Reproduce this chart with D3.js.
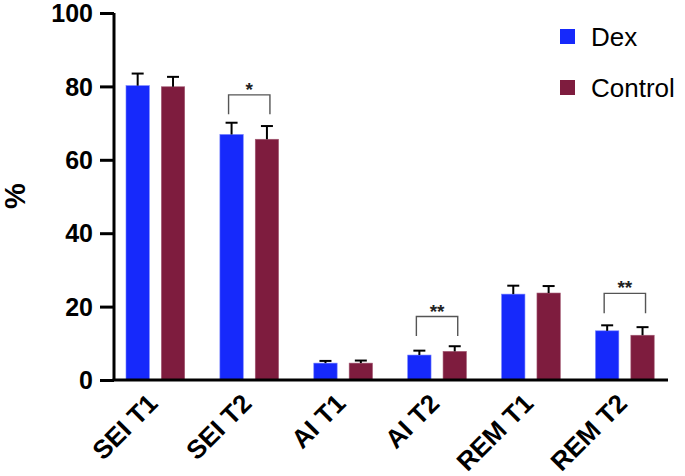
<!DOCTYPE html>
<html><head><meta charset="utf-8">
<script src="https://cdn.jsdelivr.net/npm/d3@7"></script>
<style>html,body{margin:0;padding:0;background:#fff}svg{display:block}</style>
</head><body>
<svg id="chart" width="685" height="476"></svg>
<script>
const categories = ["SEI T1","SEI T2","AI T1","AI T2","REM T1","REM T2"];
const seriesNames = ["Dex","Control"];
const dexMean = [80.2, 66.9, 4.6, 6.8, 23.4, 13.4];
const dexErr  = [3.3, 3.2, 0.6, 1.2, 2.3, 1.5];
const ctrlMean = [79.9, 65.6, 4.6, 7.8, 23.7, 12.2];
const ctrlErr  = [2.7, 3.6, 0.7, 1.4, 1.9, 2.2];
const yTicks = [0, 20, 40, 60, 80, 100];
// significance brackets: category, bracket level, drop level, label
const sigCats = ["SEI T2","AI T2","REM T2"];
const sigTop = [77.7, 17.3, 23.6];
const sigDrop = [72.4, 12.0, 18.2];
const sigLabels = ["*","**","**"];
const colors = ["#1629FB", "#7E1C3E"];

const svg = d3.select("#chart");
const font = "'Liberation Sans', Arial, Helvetica, sans-serif";

const y = d3.scaleLinear().domain([0, 100]).range([380, 13]);
const x0 = d3.scaleBand().domain(categories).range([108.4, 671.8]).padding(0);
const x1 = d3.scaleBand().domain(seriesNames).range([17.6, 76.3]).paddingInner(0.34).paddingOuter(0);
const color = d3.scaleOrdinal().domain(seriesNames).range(colors);

const data = categories.map((c, i) => ({
  cat: c,
  vals: [
    {s: "Dex", m: dexMean[i], e: dexErr[i]},
    {s: "Control", m: ctrlMean[i], e: ctrlErr[i]}
  ]
}));

// bars
const g = svg.append("g");
const groups = g.selectAll("g.grp").data(data).join("g")
  .attr("transform", d => `translate(${x0(d.cat)},0)`);
groups.selectAll("rect").data(d => d.vals).join("rect")
  .attr("x", d => x1(d.s)).attr("width", x1.bandwidth())
  .attr("y", d => y(d.m)).attr("height", d => y(0) - y(d.m))
  .attr("fill", d => color(d.s))
  .attr("stroke", d => d.s === "Dex" ? "#6f7cff" : "#a35a74").attr("stroke-width", 0.6);
// error bars
const eb = groups.selectAll("g.eb").data(d => d.vals).join("g");
eb.append("line")
  .attr("x1", d => x1(d.s) + x1.bandwidth()/2).attr("x2", d => x1(d.s) + x1.bandwidth()/2)
  .attr("y1", d => y(d.m)).attr("y2", d => y(d.m + d.e))
  .attr("stroke", "#000").attr("stroke-width", 2);
eb.append("line")
  .attr("x1", d => x1(d.s) + x1.bandwidth()/2 - 6).attr("x2", d => x1(d.s) + x1.bandwidth()/2 + 6)
  .attr("y1", d => y(d.m + d.e)).attr("y2", d => y(d.m + d.e))
  .attr("stroke", "#000").attr("stroke-width", 2);

// significance brackets
sigCats.forEach((c, i) => {
  const xa = x0(c) + x1("Dex") + x1.bandwidth()/2 - 3;
  const xb = x0(c) + x1("Control") + x1.bandwidth()/2 + 3;
  svg.append("path")
    .attr("d", `M${xa},${y(sigDrop[i])}V${y(sigTop[i])}H${xb}V${y(sigDrop[i])}`)
    .attr("fill", "none").attr("stroke", "#555").attr("stroke-width", 1.4);
  svg.append("text").attr("x", (xa + xb)/2).attr("y", y(sigTop[i]) + 1)
    .attr("text-anchor", "middle").attr("font-family", font).attr("font-size", 19)
    .attr("font-weight", "bold").attr("fill", "#222").text(sigLabels[i]);
});

// y axis
const yAxis = svg.append("g").attr("transform", "translate(114,0)")
  .call(d3.axisLeft(y).tickValues(yTicks).tickSize(14).tickPadding(7).tickSizeOuter(0));
yAxis.select(".domain").attr("stroke", "#000").attr("stroke-width", 3)
  .attr("d", `M0,${y(100)}V${y(0)}`);
yAxis.selectAll(".tick line").attr("stroke", "#000").attr("stroke-width", 3);
yAxis.selectAll(".tick text").attr("font-family", font).attr("font-weight", "bold")
  .attr("font-size", 25).attr("fill", "#000").attr("dy", "0.35em");

// x axis
const xAxis = svg.append("g").attr("transform", `translate(0,${y(0)})`)
  .call(d3.axisBottom(x0).tickSize(0).tickPadding(0));
xAxis.select(".domain").attr("stroke", "#000").attr("stroke-width", 3)
  .attr("d", `M112.5,0H668`);
xAxis.selectAll(".tick text")
  .attr("font-family", font).attr("font-weight", "bold").attr("font-size", 26)
  .attr("fill", "#000").attr("text-anchor", "end")
  .attr("dy", null).attr("y", 0)
  .attr("transform", "translate(4,25) rotate(-45)");

// y label
svg.append("text").attr("transform", "translate(25,196) rotate(-90)")
  .attr("text-anchor", "middle").attr("font-family", font).attr("font-weight", "bold")
  .attr("font-size", 29).attr("fill", "#000").text("%");

// legend
const leg = svg.append("g");
seriesNames.forEach((s, i) => {
  const yy = 29 + i * 51;
  leg.append("rect").attr("x", 560).attr("y", yy).attr("width", 15).attr("height", 15)
    .attr("fill", color(s));
  leg.append("text").attr("x", 591).attr("y", yy + 17).attr("font-family", font)
    .attr("font-size", 26).attr("fill", "#000").text(s);
});
</script>
</body></html>
